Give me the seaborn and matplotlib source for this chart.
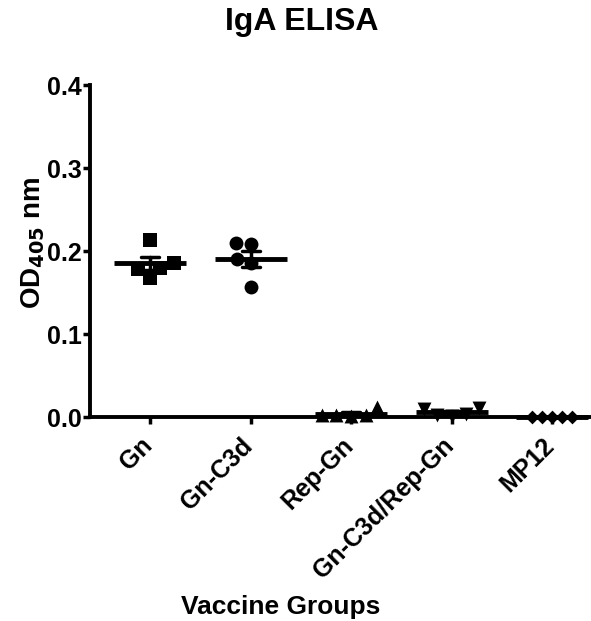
import numpy as np
import pandas as pd
import seaborn as sns
import matplotlib.pyplot as plt
from matplotlib.transforms import ScaledTranslation

groups = ["Gn", "Gn-C3d", "Rep-Gn", "Gn-C3d/Rep-Gn", "MP12"]
gn = [0.213, 0.186, 0.180, 0.168, 0.178]
gn_c3d = [0.210, 0.209, 0.185, 0.190, 0.157]
rep_gn = [0.012, 0.003, 0.002, 0.001, 0.002]
gn_c3d_rep_gn = [0.011, 0.010, 0.004, 0.001, 0.003]
mp12 = [0.0, 0.0, 0.0, 0.0, 0.0]
markers = ["s", "o", "^", "v", "D"]

values = [gn, gn_c3d, rep_gn, gn_c3d_rep_gn, mp12]
df = pd.DataFrame({
    "group": np.repeat(groups, 5),
    "od": np.concatenate(values),
})

sns.set_style("ticks")
plt.rcParams["font.family"] = ["Liberation Sans", "DejaVu Sans"]
plt.rcParams["font.weight"] = "bold"
plt.rcParams["text.color"] = "black"
plt.rcParams["axes.labelcolor"] = "black"
plt.rcParams["mathtext.default"] = "bf"

fig = plt.figure(figsize=(5.91, 6.21), dpi=100)
ax = fig.add_axes([0.152, 0.3285, 0.85, 0.5345])

for g, m in zip(groups, markers):
    sub = df.copy()
    sub.loc[sub.group != g, "od"] = np.nan
    size = 7 if m == "D" else 10
    sns.swarmplot(data=sub, x="group", y="od", order=groups, marker=m,
                  color="black", size=size, ax=ax)

sns.pointplot(data=df, x="group", y="od", order=groups, errorbar="se",
              markers="_", linestyles="none", color="black", capsize=0.18,
              err_kws={"linewidth": 2.5}, markersize=52, markeredgewidth=3.5, ax=ax)

for c in ax.collections + ax.lines:
    c.set_clip_on(False)

ax.set_xlim(-0.6, 4.4)
ax.set_ylim(0, 0.4)
ax.set_yticks([0.0, 0.1, 0.2, 0.3, 0.4])
ax.set_yticklabels(["0.0", "0.1", "0.2", "0.3", "0.4"], fontsize=18, fontweight="bold")
ax.set_xticks(range(5))
ax.set_xticklabels(groups, rotation=45, ha="right", rotation_mode="anchor",
                   fontsize=18, fontweight="bold")
ax.tick_params(axis="both", width=2.5, length=5, colors="black")
ax.tick_params(axis="y", pad=1)
ax.tick_params(axis="x", pad=14)
shift = ScaledTranslation(-0.10, 0.10, fig.dpi_scale_trans)
for lab in ax.get_xticklabels():
    lab.set_transform(lab.get_transform() + shift)
for s in ["left", "bottom"]:
    ax.spines[s].set_linewidth(2.8)
    ax.spines[s].set_color("black")
sns.despine(ax=ax)

ax.set_ylabel("OD$_{405}$ nm", fontsize=20, fontweight="bold")
ax.yaxis.set_label_coords(-0.085, 0.524)
ax.set_xlabel("Vaccine Groups", fontsize=19, fontweight="bold")
ax.xaxis.set_label_coords(0.38, -0.536)
fig.text(0.51, 0.964, "IgA ELISA", fontsize=23, fontweight="bold",
         ha="center", va="center")

fig.savefig("out.png", dpi=100)
